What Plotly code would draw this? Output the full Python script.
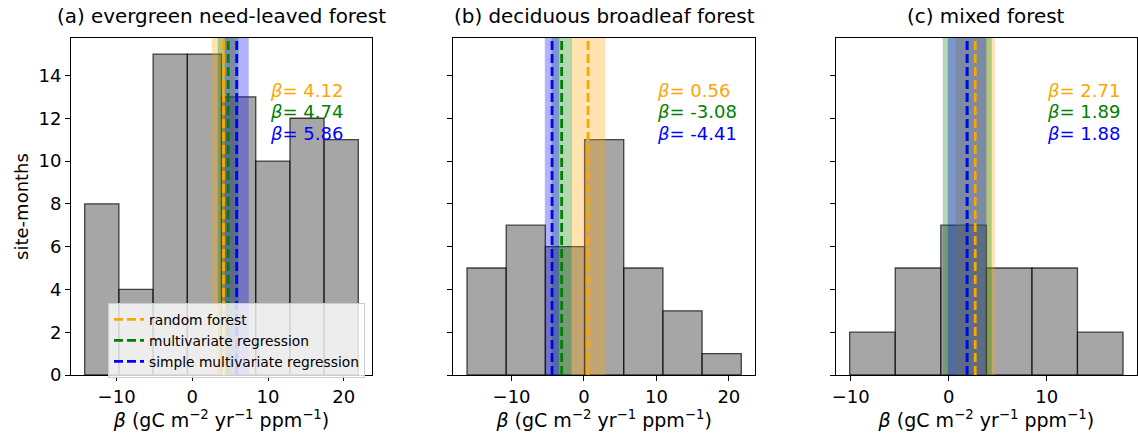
import plotly.graph_objects as go

# ---------------- data ----------------
titles = ["(a) evergreen need-leaved forest", "(b) deciduous broadleaf forest", "(c) mixed forest"]

edges_a = [-14.22, -9.70, -5.18, -0.66, 3.86, 8.38, 12.90, 17.41, 21.93]
counts_a = [8, 4, 15, 15, 13, 10, 12, 11]
edges_b = [-16.15, -10.74, -5.33, 0.08, 5.49, 10.90, 16.31, 21.72]
counts_b = [5, 7, 6, 11, 5, 3, 1]
edges_c = [-10.10, -5.45, -0.80, 3.85, 8.50, 13.14, 17.79]
counts_c = [2, 5, 7, 5, 5, 2]

method_names = ["random forest", "multivariate regression", "simple multivariate regression"]
beta_rf = [4.12, 0.56, 2.71]
beta_mr = [4.74, -3.08, 1.89]
beta_smr = [5.86, -4.41, 1.88]
unc_rf = [1.55, 2.40, 2.00]
unc_mr = [1.38, 1.38, 2.50]
unc_smr = [1.59, 1.00, 1.97]

x_ticks_ab = [-10, 0, 10, 20]
x_ticks_c = [-10, 0, 10]
y_ticks = [0, 2, 4, 6, 8, 10, 12, 14]

# ---------------- styling / layout ----------------
W, H = 1138, 438
FONT = "DejaVu Sans"
line_colors = ["#FFA500", "#008000", "#0000FF"]
band_colors = ["rgba(255,165,0,0.3)", "rgba(0,128,0,0.3)", "rgba(0,0,255,0.3)"]

ax_px = [(71, 372), (453.3, 755), (836, 1136.7)]
y_top_px, y_bot_px = 38, 375
ydom = [(H - y_bot_px) / H, (H - y_top_px) / H]

edges_all = [edges_a, edges_b, edges_c]
counts_all = [counts_a, counts_b, counts_c]
betas = [beta_rf, beta_mr, beta_smr]
uncs = [unc_rf, unc_mr, unc_smr]

ymax = max(max(c) for c in counts_all) * 1.05

fig = go.Figure()

for i in range(3):
    xa = "x" if i == 0 else f"x{i+1}"
    ya = "y" if i == 0 else f"y{i+1}"
    e = edges_all[i]
    c = counts_all[i]
    centers = [(e[j] + e[j + 1]) / 2 for j in range(len(c))]
    widths = [e[j + 1] - e[j] for j in range(len(c))]
    fig.add_trace(go.Bar(
        x=centers, y=c, width=widths, xaxis=xa, yaxis=ya, showlegend=False,
        marker=dict(color="rgba(128,128,128,0.7)",
                    line=dict(color="rgba(0,0,0,0.7)", width=1.3)),
        hoverinfo="skip"))
    # uncertainty bands
    for m in range(3):
        b = betas[m][i]
        u = uncs[m][i]
        fig.add_trace(go.Scatter(
            x=[b - u, b + u, b + u, b - u, b - u], y=[0, 0, ymax, ymax, 0],
            xaxis=xa, yaxis=ya, mode="lines", fill="toself",
            fillcolor=band_colors[m], line=dict(width=0), showlegend=False,
            hoverinfo="skip"))
    # estimate lines
    for m in range(3):
        b = betas[m][i]
        fig.add_trace(go.Scatter(
            x=[b, b], y=[0, ymax], xaxis=xa, yaxis=ya, mode="lines",
            line=dict(color=line_colors[m], width=2.8, dash="9px,4px"),
            name=method_names[m], legendgroup=method_names[m],
            showlegend=(i == 0), hoverinfo="skip"))

axis_common = dict(showline=True, linecolor="black", linewidth=1, mirror=True,
                   ticks="outside", ticklen=5, tickwidth=1, tickcolor="black",
                   showgrid=False, zeroline=False, automargin=False,
                   tickfont=dict(family=FONT, size=18, color="black"))

xlabel = "<i>β</i> (gC m<sup>−2</sup> yr<sup>−1</sup> ppm<sup>−1</sup>)"

layout = dict(
    width=W, height=H,
    margin=dict(l=0, r=0, t=0, b=0, autoexpand=False),
    paper_bgcolor="white", plot_bgcolor="white",
    font=dict(family=FONT, size=18, color="black"),
    showlegend=True,
    legend=dict(x=108 / W, y=(H - 303) / H, xanchor="left", yanchor="top",
                bgcolor="rgba(255,255,255,0.8)", bordercolor="#cccccc", borderwidth=1,
                font=dict(family=FONT, size=13.8, color="black"),
                tracegroupgap=0),
)

for i in range(3):
    xkey = "xaxis" if i == 0 else f"xaxis{i+1}"
    ykey = "yaxis" if i == 0 else f"yaxis{i+1}"
    e = edges_all[i]
    span = e[-1] - e[0]
    layout[xkey] = dict(axis_common,
                        domain=[ax_px[i][0] / W, ax_px[i][1] / W],
                        anchor="y" if i == 0 else f"y{i+1}",
                        range=[e[0] - 0.05 * span, e[-1] + 0.05 * span],
                        tickvals=x_ticks_c if i == 2 else x_ticks_ab,
                        ticktext=[str(t).replace("-", "−") for t in (x_ticks_c if i == 2 else x_ticks_ab)],
                        title=dict(text=xlabel, font=dict(family=FONT, size=19), standoff=3))
    layout[ykey] = dict(axis_common,
                        domain=ydom,
                        anchor="x" if i == 0 else f"x{i+1}",
                        range=[0, ymax],
                        tickvals=y_ticks,
                        showticklabels=(i == 0))
    if i > 0:
        layout[ykey]["matches"] = "y"
layout["yaxis"]["title"] = dict(text="site-months", font=dict(family=FONT, size=18), standoff=5)

fig.update_layout(**layout)

# subplot titles
annotations = []
for i in range(3):
    annotations.append(dict(text=titles[i], xref="paper", yref="paper",
                            x=(ax_px[i][0] + ax_px[i][1]) / 2 / W, y=(H - 17) / H,
                            xanchor="center", yanchor="middle", showarrow=False,
                            font=dict(family=FONT, size=19.9, color="black")))
# beta annotations
beta_x_px = [267.5, 655, 1045]
beta_y_px = [90, 111.7, 133.3]
for i in range(3):
    for m in range(3):
        annotations.append(dict(text=f"<i>β</i>= {betas[m][i]:.2f}", xref="paper", yref="paper",
                                x=beta_x_px[i] / W, y=(H - beta_y_px[m]) / H,
                                xanchor="left", yanchor="middle", showarrow=False,
                                font=dict(family=FONT, size=18, color=line_colors[m])))
fig.update_layout(annotations=annotations)

fig.write_html("out.html", config={"displayModeBar": False},
               post_script="document.body.style.margin='0';document.body.style.overflow='hidden';")
